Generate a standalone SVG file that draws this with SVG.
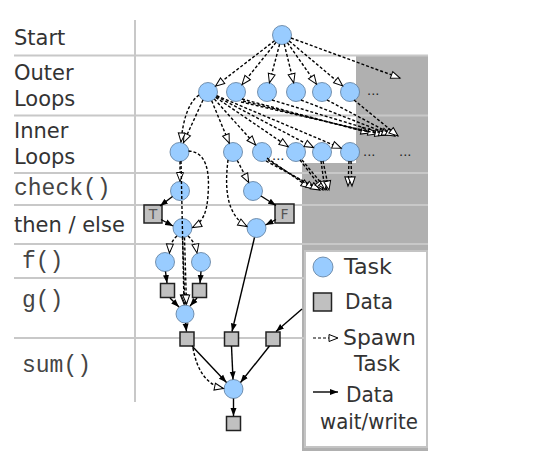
<svg xmlns="http://www.w3.org/2000/svg" width="540" height="468" viewBox="0 0 540 468">
<style>
.lbl{font-family:"DejaVu Sans",sans-serif;font-size:21px;fill:#333}
.mono{font-family:"Liberation Mono","DejaVu Sans Mono",monospace;font-size:23px;fill:#444}
.leg{font-family:"DejaVu Sans",sans-serif;font-size:21px;fill:#333}
.dots{font-family:"DejaVu Sans",sans-serif;font-size:13px;fill:#222}
.grid{stroke:#c8c8c8;stroke-width:2;fill:none}
.task{fill:#99ccff;stroke:#5a7a9a;stroke-width:0.8}
.data{fill:#c0c0c0;stroke:#222;stroke-width:1.5}
.sp{stroke:#000;stroke-width:1.4;stroke-dasharray:3 2;fill:none;marker-end:url(#oa)}
.dw{stroke:#000;stroke-width:1.4;fill:none;marker-end:url(#fa)}
.tf{font-family:"DejaVu Sans",sans-serif;font-size:14px;fill:#555}
</style>
<defs>
<marker id="oa" markerUnits="userSpaceOnUse" markerWidth="12" markerHeight="10" viewBox="0 0 12 10" refX="10" refY="5" orient="auto"><path d="M1,1.5 L10,5 L1,8.5 z" fill="#fff" stroke="#000" stroke-width="1"/></marker>
<marker id="fa" markerUnits="userSpaceOnUse" markerWidth="9" markerHeight="7" viewBox="0 0 9 7" refX="8" refY="3.5" orient="auto"><path d="M0,0.5 L8,3.5 L0,6.5 z" fill="#000"/></marker>
</defs>
<rect width="540" height="468" fill="#fff"/>
<g id="background">
<path d="M356,55 H428 V451 H302 V163 H356 Z" fill="#b0b0b0"/>
<path class="grid" d="M14,55.5 H428 M14,115.5 H428 M14,173 H428 M14,205 H428 M14,244 H428 M14,278 H428 M14,338 H428 M135,20 V402"/>
</g>
<g id="row-labels">
<text class="lbl" x="14" y="45">Start</text>
<text class="lbl" x="14" y="80">Outer</text>
<text class="lbl" x="14" y="106">Loops</text>
<text class="lbl" x="14" y="138">Inner</text>
<text class="lbl" x="14" y="164">Loops</text>
<text class="mono" x="14" y="195">check()</text>
<text class="lbl" x="14" y="232">then / else</text>
<text class="mono" x="22" y="268">f()</text>
<text class="mono" x="22" y="307">g()</text>
<text class="mono" x="22" y="372">sum()</text>
</g>
<g id="legend">
<rect x="305" y="251" width="122" height="196" fill="#fff" stroke="#c4c4c4" stroke-width="2"/>
<circle class="task" cx="323" cy="267" r="10"/>
<text class="leg" x="344" y="274" textLength="48" lengthAdjust="spacingAndGlyphs">Task</text>
<rect class="data" x="313.5" y="293" width="18" height="18"/>
<text class="leg" x="345" y="309" textLength="48" lengthAdjust="spacingAndGlyphs">Data</text>
<line x1="313" y1="338" x2="338" y2="338" stroke="#000" stroke-width="1.2" stroke-dasharray="3 2" marker-end="url(#oa)"/>
<text class="leg" x="343" y="345" textLength="73" lengthAdjust="spacingAndGlyphs">Spawn</text>
<text class="leg" x="354" y="371" textLength="46" lengthAdjust="spacingAndGlyphs">Task</text>
<line x1="313" y1="392" x2="338" y2="392" stroke="#000" stroke-width="1.4" marker-end="url(#fa)"/>
<text class="leg" x="346" y="402" textLength="48" lengthAdjust="spacingAndGlyphs">Data</text>
<text class="leg" x="320" y="429" textLength="98" lengthAdjust="spacingAndGlyphs">wait/write</text>
</g>
<g id="start"><circle class="task" cx="282" cy="35" r="9.5"/></g>
<g id="outer1"><circle class="task" cx="208" cy="92" r="9.5"/></g>
<g id="outer2"><circle class="task" cx="236" cy="92" r="9.5"/></g>
<g id="outer3"><circle class="task" cx="267" cy="92" r="9.5"/></g>
<g id="outer4"><circle class="task" cx="296" cy="92" r="9.5"/></g>
<g id="outer5"><circle class="task" cx="322" cy="92" r="9.5"/></g>
<g id="outer6"><circle class="task" cx="350" cy="92" r="9.5"/></g>
<g id="outer-more"><text class="dots" x="367" y="95">...</text></g>
<g id="inner1"><circle class="task" cx="179.5" cy="152" r="9.5"/></g>
<g id="inner2"><circle class="task" cx="233" cy="152" r="9.5"/></g>
<g id="inner3"><circle class="task" cx="262" cy="152" r="9.5"/></g>
<g id="inner4"><circle class="task" cx="296" cy="152" r="9.5"/></g>
<g id="inner5"><circle class="task" cx="322" cy="152" r="9.5"/></g>
<g id="inner6"><circle class="task" cx="350" cy="152" r="9.5"/></g>
<g id="inner-more"><text class="dots" x="272" y="160">...</text><text class="dots" x="363" y="156">...</text><text class="dots" x="399" y="156">...</text></g>
<g id="check1"><circle class="task" cx="180" cy="191" r="9.5"/></g>
<g id="check2"><circle class="task" cx="253" cy="191" r="9.5"/></g>
<g id="dataT"><rect class="data" x="144" y="205" width="18" height="18"/><text class="tf" x="153" y="219" text-anchor="middle">T</text></g>
<g id="dataF"><rect class="data" x="275" y="204" width="19" height="19"/><text class="tf" x="284.5" y="219" text-anchor="middle">F</text></g>
<g id="then1"><circle class="task" cx="182.5" cy="228" r="9.5"/></g>
<g id="then2"><circle class="task" cx="256.5" cy="228" r="9.5"/></g>
<g id="f1"><circle class="task" cx="165" cy="262" r="9.5"/></g>
<g id="f2"><circle class="task" cx="201" cy="262" r="9.5"/></g>
<g id="g1data"><rect class="data" x="160.5" y="283.5" width="14" height="14"/></g>
<g id="g2data"><rect class="data" x="192.5" y="283.5" width="14" height="14"/></g>
<g id="gtask"><circle class="task" cx="185" cy="314" r="9"/></g>
<g id="sumdata1"><rect class="data" x="180" y="332" width="14" height="14"/></g>
<g id="sumdata2"><rect class="data" x="224.5" y="332" width="14" height="14"/></g>
<g id="sumdata3"><rect class="data" x="266" y="332" width="14" height="14"/></g>
<g id="sumtask"><circle class="task" cx="233.5" cy="389" r="9.5"/></g>
<g id="result"><rect class="data" x="226.5" y="416.5" width="14" height="14"/></g>
<g id="connectors">
<path class="sp" d="M274.5,40.8 L215.5,86.2"/>
<path class="sp" d="M276,42.4 L242,84.6"/>
<path class="sp" d="M279.6,44.2 L269.4,82.8"/>
<path class="sp" d="M284.3,44.2 L293.7,82.8"/>
<path class="sp" d="M287.5,42.8 L316.5,84.2"/>
<path class="sp" d="M289.3,41.1 L342.7,85.9"/>
<path class="sp" d="M291,38 L400,78"/>
<path class="sp" d="M203,100 L183.5,142.5"/>
<path class="sp" d="M199,95 C188,103 183,120 181,142"/>
<path class="sp" d="M211.7,100.8 L229.3,143.2"/>
<path class="sp" d="M214.4,99.1 L255.6,144.9"/>
<path class="sp" d="M215.8,97.4 L288.2,146.7"/>
<path class="sp" d="M216.4,96.4 L313.6,147.6"/>
<path class="sp" d="M216.7,95.7 L341.3,148.3"/>
<path class="sp" d="M242,99 L370,133"/>
<path class="sp" d="M243,101 L377,134"/>
<path class="sp" d="M241,102 L384,135"/>
<path class="sp" d="M272,100 L388,135"/>
<path class="sp" d="M301,100 L391,135"/>
<path class="sp" d="M327,100 L395,136"/>
<path class="sp" d="M354,100 L398,136"/>
<path class="sp" d="M180,161.5 L180,181.5"/>
<path class="sp" d="M181,161 L184,304"/>
<path class="sp" d="M188.5,151 C206,152 210,170 208,195 C207,212 203,222 192.5,227.5"/>
<path class="sp" d="M237.3,160.5 L248.7,182.5"/>
<path class="sp" d="M228,160 C225,185 225,214 247,226.5"/>
<path class="sp" d="M267,158 L310,188"/>
<path class="sp" d="M268,160 L315,189"/>
<path class="sp" d="M266,161 L320,190"/>
<path class="sp" d="M300,160 L323,190"/>
<path class="sp" d="M302,160 L327,190"/>
<path class="sp" d="M321,161 L325,190"/>
<path class="sp" d="M323,161 L329,190"/>
<path class="sp" d="M349,161 L348,186"/>
<path class="sp" d="M351,161 L352,186"/>
<path class="dw" d="M172.5,196.5 L160,206"/>
<path class="dw" d="M161,219.5 L173,226"/>
<path class="dw" d="M261,196 L276,205.5"/>
<path class="dw" d="M276,219.5 L265.5,225"/>
<path class="sp" d="M177,236 Q170,242 169.5,253"/>
<path class="sp" d="M188,236 Q195,242 197,253"/>
<path class="sp" d="M182.5,237.5 L185,304"/>
<path class="sp" d="M184.5,237.5 L186.5,304"/>
<path class="dw" d="M165.5,271.5 L167,283"/>
<path class="dw" d="M201,271.5 L200,283"/>
<path class="dw" d="M170,298 L179,307"/>
<path class="dw" d="M197,298 L190,306"/>
<path class="dw" d="M185.5,323 L186.5,331.5"/>
<path class="dw" d="M254.5,237.5 L232,331.5"/>
<path class="dw" d="M302,309 L276,331.5"/>
<path class="dw" d="M192,346 L226.5,382.5"/>
<path class="dw" d="M231.5,346 L233,379.5"/>
<path class="dw" d="M269.5,346 L240.5,382.5"/>
<path class="dw" d="M233.5,398.5 L233.5,416"/>
<path class="sp" d="M193,348 C197,371 207,385 223.5,388.5"/>
</g>
</svg>
